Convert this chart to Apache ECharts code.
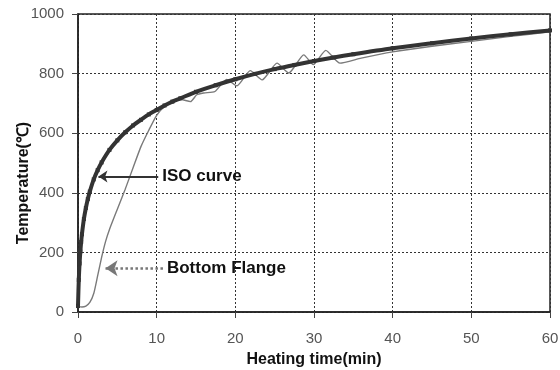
<!DOCTYPE html>
<html>
<head>
<meta charset="utf-8">
<script src="https://cdn.jsdelivr.net/npm/echarts@6/dist/echarts.min.js"></script>
<style>html,body{margin:0;padding:0;background:#fff}#c{width:560px;height:370px}</style>
</head>
<body>
<div id="c"></div>
<script>
// Data
const isoTime = [0, 0.1, 0.2, 0.3, 0.4, 0.5, 0.75, 1, 1.25, 1.5, 2, 2.5, 3, 4, 5, 6, 7, 8, 9, 10, 11, 12, 13, 15, 17.5, 20, 22.5, 25, 27.5, 30, 32.5, 35, 40, 45, 50, 55, 60];
const isoTemp = [20, 108, 163, 203, 235, 261, 312, 349, 379, 404, 445, 476, 502, 544, 576, 603, 626, 645, 663, 678, 693, 706, 717, 739, 761, 781, 799, 815, 829, 842, 854, 865, 885, 902, 918, 932, 945];

const flangeTime = [0, 0.5, 1, 1.5, 2, 2.5, 3, 3.5, 4, 5, 6, 6.5, 7, 8, 9, 10, 11, 12, 13, 14.3, 15.1, 16, 17.4, 18.9, 20.2, 21.9, 23.4, 25.3, 26.8, 28.7, 29.9, 31.5, 33.3, 36, 40, 45, 50, 55, 60];
const flangeTemp = [18, 17, 20, 32, 62, 122, 183, 236, 277, 345, 412, 448, 484, 555, 610, 660, 690, 703, 714, 706, 729, 735, 740, 780, 759, 810, 779, 835, 802, 863, 830, 878, 835, 852, 873, 892, 908, 925, 940];

const xTicks = [0, 10, 20, 30, 40, 50, 60];
const yTicks = [0, 200, 400, 600, 800, 1000];

// Annotation anchors (data space): [tailTime, tipTime, temp]
const isoArrow = [10.2, 2.6, 455];
const flangeArrow = [10.8, 3.5, 147];

const zip = (a, b) => a.map((v, i) => [v, b[i]]);

const chart = echarts.init(document.getElementById('c'), null, {renderer: 'canvas'});
const tickFont = {color: '#555', fontFamily: '"Liberation Sans Narrow", "Liberation Sans", Arial, sans-serif', fontSize: 15, formatter: v => String(v)};
const labelFont = {fontFamily: '"Liberation Sans", Arial, sans-serif', fontWeight: 'bold', color: '#111'};

chart.setOption({
  animation: false,
  grid: {left: 78, right: 10, top: 14, bottom: 58, show: true, borderColor: '#222', borderWidth: 1.5, outerBoundsMode: 'none', containLabel: false},
  xAxis: {
    type: 'value', min: xTicks[0], max: xTicks[xTicks.length - 1], interval: 10,
    name: 'Heating time(min)', nameLocation: 'middle', nameGap: 40, nameMoveOverlap: false,
    nameTextStyle: Object.assign({fontSize: 16}, labelFont),
    axisLine: {lineStyle: {color: '#222', width: 1.5}},
    axisTick: {show: true, length: 6, lineStyle: {color: '#444'}},
    axisLabel: Object.assign({margin: 19}, tickFont),
    splitLine: {show: true, lineStyle: {color: '#333', type: [2, 2], width: 1}}
  },
  yAxis: {
    type: 'value', min: yTicks[0], max: yTicks[yTicks.length - 1], interval: 200,
    name: 'Temperature(℃)', nameLocation: 'middle', nameGap: 46, nameMoveOverlap: false,
    nameTextStyle: Object.assign({fontSize: 16, padding: [0, 40, 0, 0]}, labelFont),
    axisLine: {show: true, lineStyle: {color: '#222', width: 1.5}},
    axisTick: {show: true, length: 6, lineStyle: {color: '#444'}},
    axisLabel: Object.assign({margin: 14}, tickFont),
    splitLine: {show: true, lineStyle: {color: '#333', type: [2, 2], width: 1}}
  },
  series: [
    {
      name: 'Bottom Flange', type: 'line', data: zip(flangeTime, flangeTemp),
      showSymbol: false, smooth: 0.2, z: 2,
      lineStyle: {color: '#7a7a7a', width: 1.4},
      itemStyle: {color: '#7a7a7a'},
      markLine: {
        silent: true, symbol: ['none', 'arrow'], symbolSize: 12,
        lineStyle: {color: '#777', type: 'dotted', width: 2.5},
        label: Object.assign({show: true, position: 'start', distance: 4, fontSize: 17, formatter: 'Bottom Flange'}, labelFont),
        data: [[{coord: [flangeArrow[0], flangeArrow[2]]}, {coord: [flangeArrow[1], flangeArrow[2]]}]]
      }
    },
    {
      name: 'ISO curve', type: 'line', data: zip(isoTime, isoTemp),
      showSymbol: true, symbol: 'rect', symbolSize: 4, smooth: 0.3, z: 3,
      lineStyle: {color: '#333', width: 4},
      itemStyle: {color: '#333'},
      markLine: {
        silent: true, symbol: ['none', 'arrow'], symbolSize: 9,
        lineStyle: {color: '#333', type: 'solid', width: 2},
        label: Object.assign({show: true, position: 'start', distance: 4, fontSize: 17, formatter: 'ISO curve'}, labelFont),
        data: [[{coord: [isoArrow[0], isoArrow[2]]}, {coord: [isoArrow[1], isoArrow[2]]}]]
      }
    }
  ]
});
</script>
</body>
</html>
